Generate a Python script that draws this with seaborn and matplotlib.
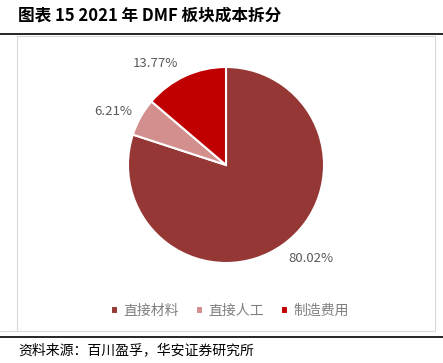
import matplotlib
matplotlib.use('Agg')
import matplotlib.pyplot as plt
import seaborn as sns
from matplotlib.patches import Rectangle
from matplotlib.lines import Line2D

sns.set_style('white')
plt.rcParams['font.family'] = ['Noto Sans CJK SC', 'DejaVu Sans']

# data
categories = ['直接材料', '直接人工', '制造费用']
shares = [80.02, 6.21, 13.77]
colors = ['#953735', '#D38F8D', '#C00000']
# label spots, in pie radii from the centre
label_xy = [(0.867, -0.959), (-1.153, 0.541), (-0.724, 1.031)]

fig = plt.figure(figsize=(4.43, 3.63), dpi=100)

# title, rules and chart frame
fig.text(18/443, 1 - 16/363, '图表 15 2021 年 DMF 板块成本拆分', fontsize=12,
         fontweight='bold', va='center', ha='left', color='black')
fig.add_artist(Line2D([0, 1], [1 - 34/363, 1 - 34/363], color='black', lw=1.2))
fig.add_artist(Rectangle((17/443, 1 - 331/363), 418/443, 295/363, fill=False,
                         edgecolor='#D9D9D9', lw=0.8))
fig.add_artist(Line2D([0, 17/443], [1 - 331/363, 1 - 331/363], color='#D9D9D9', lw=0.8))
fig.add_artist(Line2D([0, 1], [1 - 337/363, 1 - 337/363], color='black', lw=1.2))
fig.text(18/443, 1 - 350/363, '资料来源：百川盈孚，华安证券研究所', fontsize=10,
         va='center', ha='left', color='black')

# pie
cx, cy, r = 226, 165, 98
ax = fig.add_axes([(cx - r)/443, (363 - cy - r)/363, 2*r/443, 2*r/363])
wedges, texts, autotexts = ax.pie(
    shares, colors=colors, startangle=90, counterclock=False,
    autopct='%.2f%%', pctdistance=1.28,
    wedgeprops=dict(edgecolor='white', linewidth=1.5),
    textprops=dict(color='#595959', fontsize=9.5))
for t, xy in zip(autotexts, label_xy):
    t.set_position(xy)
ax.set_aspect('equal')
ax.set_xlim(-1, 1)
ax.set_ylim(-1, 1)
ax.axis('off')

leg = fig.legend(wedges, categories, loc='center', bbox_to_anchor=(230/443, 1 - 311/363),
                 ncol=3, frameon=False, fontsize=10, handlelength=0.5, handleheight=0.5,
                 handletextpad=0.4, columnspacing=1.2, labelcolor='#7F7F7F')

fig.savefig('out.png', dpi=100)
